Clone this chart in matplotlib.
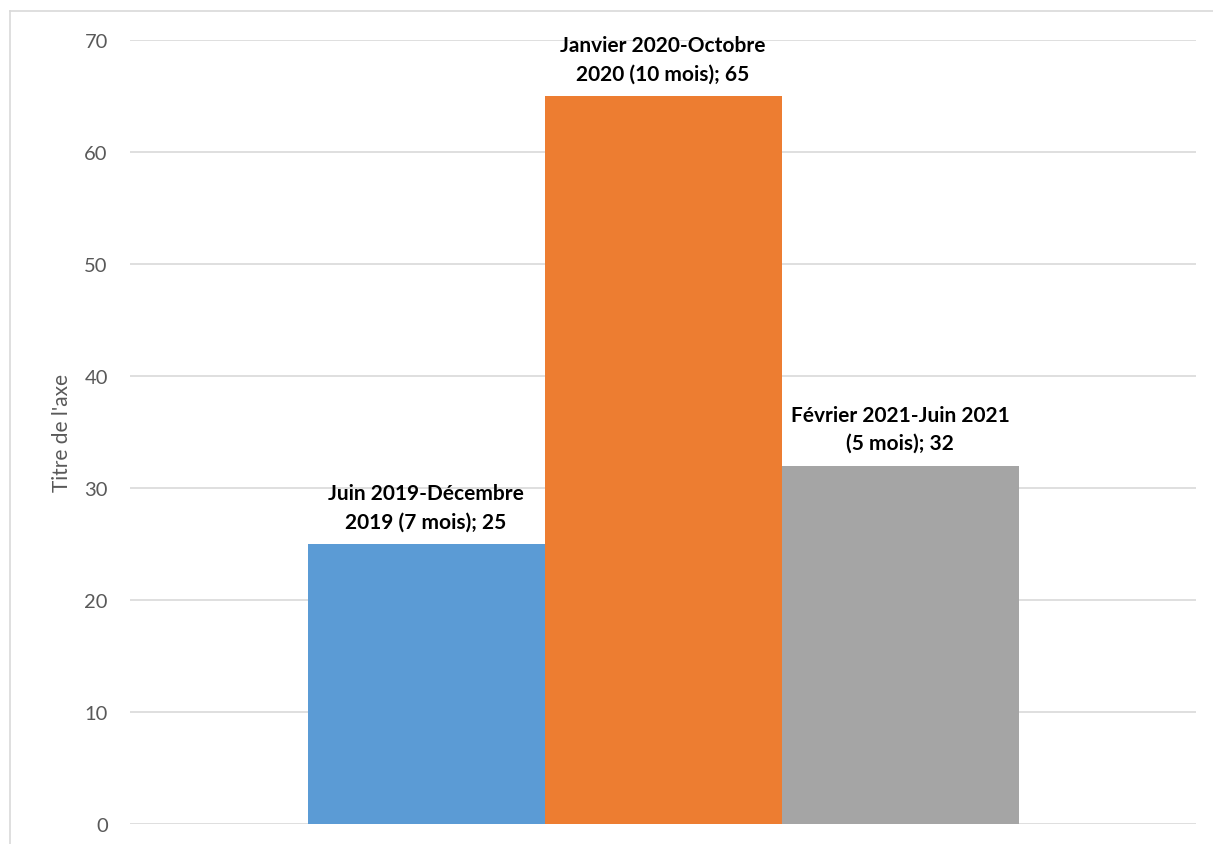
import matplotlib.pyplot as plt
from matplotlib.lines import Line2D

# data
series_labels = ["Juin 2019-Décembre\n2019 (7 mois); 25",
                 "Janvier 2020-Octobre\n2020 (10 mois); 65",
                 "Février 2021-Juin 2021\n(5 mois); 32"]
values = [25, 65, 32]
colors = ["#5B9BD5", "#ED7D31", "#A5A5A5"]
yticks = [0, 10, 20, 30, 40, 50, 60, 70]

plt.rcParams['font.family'] = ['Lato', 'DejaVu Sans']

W, H = 1213, 845
fig = plt.figure(figsize=(W / 100, H / 100), dpi=100)
ax = fig.add_axes([130 / W, 1 - 825 / H, (1196 - 130) / W, (825 - 41) / H])

bar_w = 237 / 1066  # fraction of x range
ax.set_xlim(0, 1)
ax.set_ylim(0, 70)
centers = [0.5 - bar_w, 0.5, 0.5 + bar_w]
for c, v, col, lab in zip(centers, values, colors, series_labels):
    ax.bar(c, v, width=bar_w, color=col, zorder=2)
    ax.annotate(lab, (c, v), xytext=(0, 9), textcoords="offset points",
                ha="center", va="bottom", fontsize=15, fontweight="bold",
                color="black", linespacing=1.5, zorder=3)

ax.set_yticks(yticks)
ax.set_xticks([])
ax.grid(axis="y", color="#D9D9D9", linewidth=1.2, zorder=0)
ax.tick_params(axis="y", length=0, pad=16, labelsize=14.5, labelcolor="#595959")
for s in ax.spines.values():
    s.set_visible(False)
ax.set_ylabel("Titre de l'axe", fontsize=15, color="#595959", labelpad=9)

# chart border (partly cropped in the reference)
fig.add_artist(Line2D([10 / W, 1.0], [1 - 12 / H, 1 - 12 / H], color="#D9D9D9", linewidth=1.2))
fig.add_artist(Line2D([10 / W, 10 / W], [0, 1 - 12 / H], color="#D9D9D9", linewidth=1.2))

fig.savefig("out.png", dpi=100)
